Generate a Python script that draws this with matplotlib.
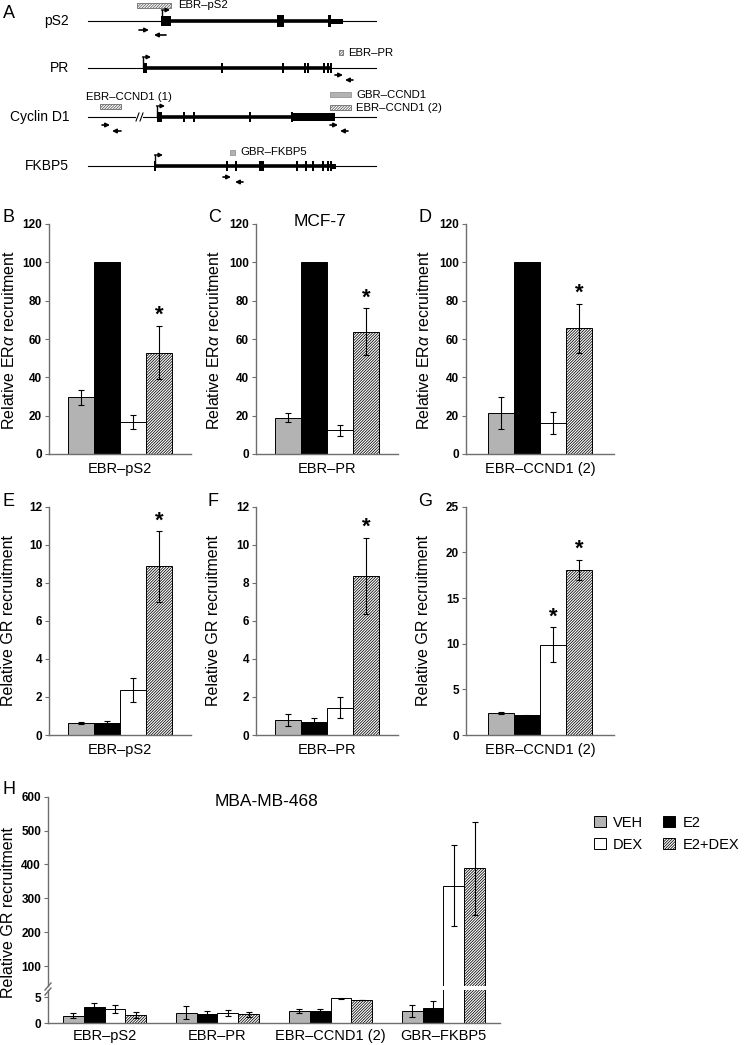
import matplotlib
matplotlib.use("Agg")
import matplotlib.pyplot as plt
from matplotlib.patches import Patch
from matplotlib.lines import Line2D

plt.rcParams["font.family"] = ["Liberation Sans", "DejaVu Sans"]
plt.rcParams["mathtext.fontset"] = "custom"
plt.rcParams["mathtext.it"] = "Liberation Sans:italic"
plt.rcParams["mathtext.rm"] = "Liberation Sans"
plt.rcParams["hatch.linewidth"] = 0.55

W, H = 745, 1045

# ── data ──────────────────────────────────────────────────────────────────────
treatments = ["VEH", "E2", "DEX", "E2+DEX"]

# MCF-7, ERα ChIP (B–D)
era_regions = ["EBR\u2013pS2", "EBR\u2013PR", "EBR\u2013CCND1 (2)"]
era_mean = [[29.5, 100, 16.7, 52.9],
            [19.0, 100, 12.3, 63.8],
            [21.2, 100, 16.0, 65.5]]
era_err = [[3.7, 0, 3.4, 14.0],
           [2.2, 0, 2.7, 12.2],
           [8.3, 0, 5.7, 13.0]]
era_star = [[0, 0, 0, 1], [0, 0, 0, 1], [0, 0, 0, 1]]

# MCF-7, GR ChIP (E–G)
gr_regions = ["EBR\u2013pS2", "EBR\u2013PR", "EBR\u2013CCND1 (2)"]
gr_mean = [[0.63, 0.65, 2.37, 8.86],
           [0.78, 0.68, 1.44, 8.37],
           [2.40, 2.15, 9.90, 18.1]]
gr_err = [[0.05, 0.07, 0.65, 1.85],
          [0.32, 0.20, 0.55, 2.00],
          [0.15, 0.08, 1.90, 1.10]]
gr_star = [[0, 0, 0, 1], [0, 0, 0, 1], [0, 0, 1, 1]]

# MDA-MB-468, GR ChIP (H): one list per treatment over the regions
h_regions = ["EBR\u2013pS2", "EBR\u2013PR", "EBR\u2013CCND1 (2)", "GBR\u2013FKBP5"]
h_veh = [1.47, 2.05, 2.36, 2.36]
h_e2 = [3.20, 1.73, 2.36, 2.90]
h_dex = [2.70, 2.05, 4.80, 337]
h_e2dex = [1.60, 1.73, 4.50, 388]
h_veh_err = [0.45, 1.25, 0.45, 1.15]
h_e2_err = [0.75, 0.60, 0.30, 1.40]
h_dex_err = [0.80, 0.60, 0.15, 120]
h_e2dex_err = [0.50, 0.50, 0.05, 136]

# panel A gene schematics (schematic units)
gene_names = ["pS2", "PR", "Cyclin D1", "FKBP5"]
tss_x = [162, 143, 157, 155]
gene_body = [(162, 343), (143, 332), (157, 335), (155, 333)]
exons = [
    [(161, 171, 10), (277, 284, 12), (328, 331, 12), (331, 343, 5)],
    [(143, 147, 10), (221, 223, 10), (282, 284, 10), (304, 306, 10), (307, 309, 10),
     (323, 325, 10), (327, 329, 10), (330, 332, 10)],
    [(157, 162, 10), (183, 185, 10), (193, 195, 10), (249, 251, 10), (291, 293, 10),
     (293, 335, 8)],
    [(154, 156, 10), (226, 228, 10), (235, 237, 10), (259, 264, 10), (296, 298, 10),
     (305, 307, 10), (312, 314, 10), (322, 324, 10), (327, 329, 10), (330, 332, 10),
     (332, 336, 5)],
]
bind_regions = ["EBR\u2013pS2", "EBR\u2013PR", "EBR\u2013CCND1 (1)", "GBR\u2013CCND1",
                "EBR\u2013CCND1 (2)", "GBR\u2013FKBP5"]
bind_span = [(137, 171), (339, 343), (100, 121), (330, 351), (330, 351), (230, 235)]
bind_kind = ["hatch", "hatch", "hatch", "gray", "hatch", "gray"]
primer_fwd = [(139, 149), (335, 343), (102, 110), (330, 338), (223, 231)]
primer_rev = [(166, 154), (353, 345), (121, 112), (348, 340), (243, 235)]

# ── styling ───────────────────────────────────────────────────────────────────
face = ["#b3b3b3", "black", "white", "white"]
HATCH = "/" * 12
hatch = [None, None, None, HATCH]
SPINE = "#6e6e6e"


def fx(px):
    return px / W


def fy(py):
    return 1 - py / H


def style_axes(ax):
    for s in ("top", "right"):
        ax.spines[s].set_visible(False)
    for s in ("left", "bottom"):
        ax.spines[s].set_color(SPINE)
        ax.spines[s].set_linewidth(1.0)
    ax.tick_params(axis="y", direction="out", length=3, width=0.8, color=SPINE,
                   labelsize=8.5, pad=2)
    ax.tick_params(axis="x", length=0, labelsize=10.5, pad=6)
    for lab in ax.get_yticklabels():
        lab.set_fontweight("bold")


def bar_panel(left, width, top, bottom, means, errs, stars, ylim, yticks, xlabel):
    ax = fig.add_axes([fx(left), fy(bottom), fx(width), (bottom - top) / H])
    for i, (m, e, st) in enumerate(zip(means, errs, stars)):
        x = i - 1.5
        ax.bar(x, m, width=1.0, color=face[i], edgecolor="black", linewidth=0.7,
               hatch=hatch[i], zorder=2)
        if e > 0:
            ax.errorbar(x, m, yerr=e, fmt="none", ecolor="black", elinewidth=0.8,
                        capsize=2, capthick=0.8, zorder=3)
        if st:
            ax.annotate("*", (x, m + e), xytext=(0, 0), textcoords="offset points",
                        ha="center", va="bottom", fontsize=16, fontweight="bold")
    half = width / 26 / 2
    ax.set_xlim(-half, half)
    ax.set_ylim(*ylim)
    ax.set_yticks(yticks)
    ax.set_xticks([0], [xlabel])
    style_axes(ax)
    return ax


fig = plt.figure(figsize=(W / 100, H / 100), dpi=100)

# ── panel A ───────────────────────────────────────────────────────────────────
axA = fig.add_axes([0, fy(190), fx(420), 190 / H])
axA.set_xlim(0, 420)
axA.set_ylim(190, 0)
axA.axis("off")
track_y = [21, 68, 117, 166]
for g, name in enumerate(gene_names):
    y = track_y[g]
    axA.plot([88, 376], [y, y], color="black", lw=0.8)
    axA.plot(gene_body[g], [y, y], color="black", lw=2.6, solid_capstyle="butt")
    for x0, x1, h in exons[g]:
        axA.broken_barh([(x0, x1 - x0)], (y - h / 2, h), facecolors="black")
    t = tss_x[g]
    axA.plot([t, t], [y, y - 11], color="black", lw=1.0)
    axA.annotate("", xy=(t + 8, y - 11), xytext=(t - 0.5, y - 11),
                 arrowprops=dict(arrowstyle="-|>", lw=1.0, color="black",
                                 mutation_scale=6, shrinkA=0, shrinkB=0))
    axA.text(69, y, name, ha="right", va="center", fontsize=10)

# break in the Cyclin D1 upstream line
yb = track_y[2]
axA.broken_barh([(136, 7)], (yb - 2, 4), facecolors="white", zorder=3)
for xb in (136, 140):
    axA.plot([xb, xb + 3], [yb + 4, yb - 4], color="black", lw=0.8, zorder=4)

bind_y = [5.5, 52.5, 106.5, 94.5, 107.5, 152]
label_xy = [(178, 5.5), (348, 53), (86, 97), (356, 94.5), (356, 107.5), (240, 152)]
for name, (x0, x1), kind, yc, (lx, ly) in zip(bind_regions, bind_span, bind_kind,
                                              bind_y, label_xy):
    if kind == "hatch":
        axA.broken_barh([(x0, x1 - x0)], (yc - 2.5, 5), facecolors="white",
                        edgecolors="#555555", linewidth=0.5, hatch=HATCH)
    else:
        axA.broken_barh([(x0, x1 - x0)], (yc - 2.5, 5), facecolors="#b3b3b3",
                        edgecolors="#888888", linewidth=0.5)
    axA.text(lx, ly, name, ha="left", va="center", fontsize=8.2)

primer_y = [(30, 35), (75, 80), (125, 131), (125, 131), (177, 182)]
for (f0, f1), (r0, r1), (yf, yr) in zip(primer_fwd, primer_rev, primer_y):
    for a0, a1, yy in ((f0, f1, yf), (r0, r1, yr)):
        axA.annotate("", xy=(a1, yy), xytext=(a0, yy),
                     arrowprops=dict(arrowstyle="-|>", lw=1.2, color="black",
                                     mutation_scale=6, shrinkA=0, shrinkB=0))
fig.text(fx(3), fy(14), "A", fontsize=13, ha="left", va="center")

# ── panels B–G ────────────────────────────────────────────────────────────────
lefts = [49, 256, 466]
widths = [142, 142, 148]
letters_top = ["B", "C", "D"]
letters_mid = ["E", "F", "G"]
letter_x = [2, 208, 418]
ylabel_x = [9, 214, 424]
gr_ylims = [(0, 12), (0, 12), (0, 25)]
gr_ticks = [range(0, 13, 2), range(0, 13, 2), range(0, 26, 5)]

for k in range(3):
    bar_panel(lefts[k], widths[k], 224, 454, era_mean[k], era_err[k], era_star[k],
              (0, 120), range(0, 121, 20), era_regions[k])
    bar_panel(lefts[k], widths[k], 506.7, 735, gr_mean[k], gr_err[k], gr_star[k],
              gr_ylims[k], gr_ticks[k], gr_regions[k])
    fig.text(fx(letter_x[k]), fy(218), letters_top[k], fontsize=13, ha="left", va="center")
    fig.text(fx(letter_x[k]), fy(502), letters_mid[k], fontsize=13, ha="left", va="center")
    fig.text(fx(ylabel_x[k]), fy(340), r"Relative ER$\mathit{\alpha}$ recruitment",
             rotation=90, ha="center", va="center", fontsize=11.5)
    fig.text(fx(ylabel_x[k]), fy(621), "Relative GR recruitment",
             rotation=90, ha="center", va="center", fontsize=11.5)

fig.text(fx(320), fy(221), "MCF-7", fontsize=12.5, ha="center", va="center")

# ── panel H (broken y axis) ───────────────────────────────────────────────────
h_top, h_brk_hi, h_brk_lo, h_bot = 796.7, 986, 990, 1023.3
ax_hi = fig.add_axes([fx(48), fy(h_brk_hi), fx(452), (h_brk_hi - h_top) / H])
ax_lo = fig.add_axes([fx(48), fy(h_bot), fx(452), (h_bot - h_brk_lo) / H])
h_means = [h_veh, h_e2, h_dex, h_e2dex]
h_errs = [h_veh_err, h_e2_err, h_dex_err, h_e2dex_err]
bw = 0.183
for ax in (ax_hi, ax_lo):
    for i in range(4):
        xs = [g + (i - 1.5) * bw for g in range(len(h_regions))]
        ax.bar(xs, h_means[i], width=bw, color=face[i], edgecolor="black",
               linewidth=0.7, hatch=hatch[i], zorder=2)
        ax.errorbar(xs, h_means[i], yerr=h_errs[i], fmt="none", ecolor="black",
                    elinewidth=0.8, capsize=2, capthick=0.8, zorder=3)
    ax.set_xlim(-0.5, 3.5)
    style_axes(ax)

ax_hi.set_ylim(41, 600)
ax_hi.set_yticks(range(100, 601, 100))
ax_hi.spines["bottom"].set_visible(False)
ax_hi.set_xticks([])
ax_lo.set_ylim(0, 6.4)
ax_lo.set_yticks([0, 5])
ax_lo.spines["top"].set_visible(False)
ax_lo.set_xticks(range(len(h_regions)), h_regions)
ax_lo.tick_params(axis="x", pad=4)
for ax in (ax_hi, ax_lo):
    for lab in ax.get_yticklabels():
        lab.set_fontweight("bold")

# break marks on the y axis
for yb in (h_brk_hi + 1, h_brk_lo + 2):
    fig.add_artist(Line2D([fx(45), fx(51)], [fy(yb + 3), fy(yb - 4)],
                          color=SPINE, lw=1.0))

fig.text(fx(2), fy(790), "H", fontsize=13, ha="left", va="center")
fig.text(fx(9), fy(912), "Relative GR recruitment", rotation=90, ha="center",
         va="center", fontsize=11.5)
fig.text(fx(266), fy(802), "MBA-MB-468", fontsize=12.5, ha="center", va="center")

handles = [Patch(facecolor=face[i], edgecolor="black", linewidth=0.7, hatch=hatch[i],
                 label=treatments[i]) for i in (0, 2, 1, 3)]
fig.legend(handles=handles, ncol=2, frameon=False, loc="upper left",
           bbox_to_anchor=(fx(588), fy(810)), fontsize=10.5, handlelength=0.8,
           handleheight=0.8, handletextpad=0.5, columnspacing=1.4, labelspacing=0.55,
           borderaxespad=0)

fig.savefig("out.png", dpi=100)
